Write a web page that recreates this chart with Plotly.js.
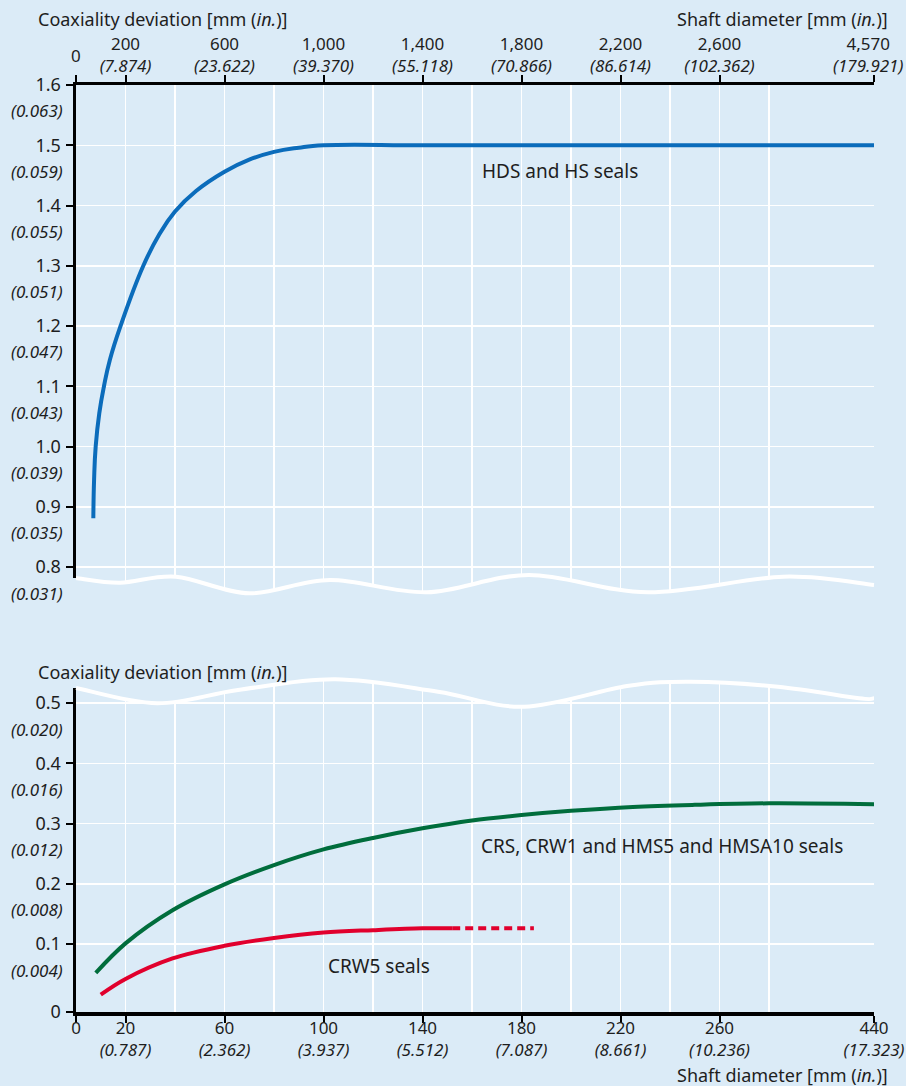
<!DOCTYPE html>
<html><head><meta charset="utf-8">
<script src="https://cdn.plot.ly/plotly-3.0.1.min.js"></script>
<style>html,body{margin:0;padding:0;background:#dbebf7;}</style>
</head><body><div id="chart" style="width:906px;height:1086px;"></div>
<script>
// ---------- DATA ----------
// Upper chart: HDS and HS seals
const hdsShaftMm = [70, 73, 79.5, 94, 113, 137, 180, 272, 335, 400, 485, 600, 700, 800, 900, 1000, 1400, 1800, 2200, 2600, 4570];
const hdsCoaxMm  = [0.881, 0.944, 1.000, 1.055, 1.100, 1.144, 1.200, 1.300, 1.351, 1.390, 1.424, 1.456, 1.476, 1.489, 1.496, 1.500, 1.500, 1.500, 1.500, 1.500, 1.500];

// Lower chart: CRS, CRW1, HMS5, HMSA10 seals
const crsShaftMm = [8, 20, 39, 60, 80, 100, 120, 140, 160, 180, 200, 225, 250, 280, 440];
const crsCoaxMm  = [0.052, 0.101, 0.156, 0.199, 0.231, 0.257, 0.276, 0.292, 0.305, 0.314, 0.321, 0.3275, 0.331, 0.3335, 0.332];

// Lower chart: CRW5 seals (solid part and dashed extension)
const crw5ShaftMm = [10, 20, 39, 60, 80, 100, 120, 140, 152];
const crw5CoaxMm  = [0.016, 0.042, 0.076, 0.097, 0.110, 0.119, 0.123, 0.126, 0.126];
const crw5DashShaftMm = [152, 185];
const crw5DashCoaxMm  = [0.126, 0.126];

// Tick labels
const topXTicks   = [0, 200, 600, 1000, 1400, 1800, 2200, 2600, 4570];
const topXTickMm  = ["0", "200", "600", "1,000", "1,400", "1,800", "2,200", "2,600", "4,570"];
const topXTickIn  = ["", "7.874", "23.622", "39.370", "55.118", "70.866", "86.614", "102.362", "179.921"];
const topXMinor   = [400, 800, 1200, 1600, 2000, 2400, 2800];
const topYTicks   = [0.8, 0.9, 1.0, 1.1, 1.2, 1.3, 1.4, 1.5, 1.6];
const topYTickMm  = ["0.8", "0.9", "1.0", "1.1", "1.2", "1.3", "1.4", "1.5", "1.6"];
const topYTickIn  = ["0.031", "0.035", "0.039", "0.043", "0.047", "0.051", "0.055", "0.059", "0.063"];

const botXTicks   = [0, 20, 60, 100, 140, 180, 220, 260, 440];
const botXTickMm  = ["0", "20", "60", "100", "140", "180", "220", "260", "440"];
const botXTickIn  = ["", "0.787", "2.362", "3.937", "5.512", "7.087", "8.661", "10.236", "17.323"];
const botXMinor   = [40, 80, 120, 160, 200, 240, 280];
const botYTicks   = [0.1, 0.2, 0.3, 0.4, 0.5];
const botYTickMm  = ["0.1", "0.2", "0.3", "0.4", "0.5"];
const botYTickIn  = ["0.004", "0.008", "0.012", "0.016", "0.020"];

const titleY = "Coaxiality deviation [mm (<i>in.</i>)]";
const titleX = "Shaft diameter [mm (<i>in.</i>)]";

// ---------- LAYOUT GEOMETRY ----------
const W = 906, H = 1086;
const BG = "#dbebf7";
const TXT = "#1e1e1e";
const FONT = "Noto Sans, sans-serif";
const pxX = p => p / W;
const pxY = p => 1 - p / H;
const plotL = 76, plotR = 874;
const pxPerUnitY = 602.5; // pixels per 1 mm of deviation
// upper panel
const topAxisPx = 85, topBottomPx = 595;
const topYMin = 0.8 - (topBottomPx - 567) / pxPerUnitY;
// lower panel
const botAxisPx = 1012, botTopPx = 678;
const botYMin = 0.1 - (botAxisPx - 944) / pxPerUnitY;
const botYMax = 0.5 + (703 - botTopPx) / pxPerUnitY;

// broken x-axis scales (linear part, then compressed last segment)
const topPos = mm => mm <= 2800 ? mm : 2800 + (mm - 2800) * (3224.2 - 2800) / (4570 - 2800);
const botPos = mm => mm <= 280 ? mm : 280 + (mm - 280) * (322.42 - 280) / (440 - 280);

const tickText = (mm, inch) => mm.map((m, i) => inch[i] ? m + "<br><i>(" + inch[i] + ")</i>" : m);

// first and last labels of the upper axis are placed separately (as in the original)
const topTickTextArr = tickText(topXTickMm, topXTickIn).map((t, i) => (i === 0 || i === topXTicks.length - 1) ? "" : t);

// ---------- TRACES ----------
const traces = [
  { x: hdsShaftMm.map(topPos), y: hdsCoaxMm, xaxis: "x", yaxis: "y", mode: "lines",
    line: { color: "#0b6cbb", width: 4, shape: "spline", smoothing: 1.3 }, hoverinfo: "skip" },
  { x: crsShaftMm.map(botPos), y: crsCoaxMm, xaxis: "x2", yaxis: "y2", mode: "lines",
    line: { color: "#006d3c", width: 4, shape: "spline", smoothing: 1 }, hoverinfo: "skip" },
  { x: crw5ShaftMm.map(botPos), y: crw5CoaxMm, xaxis: "x2", yaxis: "y2", mode: "lines",
    line: { color: "#e1002d", width: 4, shape: "spline", smoothing: 1 }, hoverinfo: "skip" },
  { x: crw5DashShaftMm.map(botPos), y: crw5DashCoaxMm, xaxis: "x2", yaxis: "y2", mode: "lines",
    line: { color: "#e1002d", width: 4, dash: "8px,5px" }, hoverinfo: "skip" }
];

// ---------- AXES ----------
const common = {
  showline: true, linecolor: "#000", linewidth: 3.5,
  ticks: "outside", ticklen: 7, tickwidth: 2, tickcolor: "#000",
  showgrid: true, gridcolor: "#ffffff", gridwidth: 1.5, zeroline: false,
  tickfont: { family: FONT, size: 17, color: TXT }, fixedrange: true,
  ticklabeloverflow: "allow"
};
const yTickFont = { family: FONT, size: 18, color: TXT };

const layout = {
  width: W, height: H, margin: { l: 0, r: 0, t: 0, b: 0 },
  paper_bgcolor: BG, plot_bgcolor: BG, showlegend: false,
  xaxis: Object.assign({}, common, {
    domain: [pxX(plotL), pxX(plotR)], range: [0, topPos(4570)], anchor: "y", side: "top",
    tickmode: "array", tickvals: topXTicks.map(topPos), ticktext: topTickTextArr,
    ticklabelstandoff: -4,
    minor: { tickmode: "array", tickvals: topXMinor.map(topPos), showgrid: true, gridcolor: "#ffffff", gridwidth: 1.5, ticks: "" }
  }),
  yaxis: Object.assign({}, common, {
    domain: [pxY(topBottomPx), pxY(topAxisPx)], range: [topYMin, 1.6], anchor: "x",
    tickmode: "array", tickvals: topYTicks, ticktext: topYTickMm, ticklabelstandoff: 1, tickfont: yTickFont
  }),
  xaxis2: Object.assign({}, common, {
    domain: [pxX(plotL), pxX(plotR)], range: [0, botPos(440)], anchor: "y2", side: "bottom",
    tickmode: "array", tickvals: botXTicks.map(botPos), ticktext: tickText(botXTickMm, botXTickIn),
    ticklabelstandoff: -9,
    minor: { tickmode: "array", tickvals: botXMinor.map(botPos), showgrid: true, gridcolor: "#ffffff", gridwidth: 1.5, ticks: "" }
  }),
  yaxis2: Object.assign({}, common, {
    domain: [pxY(botAxisPx), pxY(botTopPx)], range: [botYMin, botYMax], anchor: "x2",
    tickmode: "array", tickvals: [botYMin].concat(botYTicks), ticktext: ["0"].concat(botYTickMm),
    ticklabelstandoff: 1, tickfont: yTickFont
  }),
  annotations: [],
  shapes: []
};

// "0" and "4,570" labels of the upper shaft-diameter axis
const tFont = { family: FONT, size: 17, color: TXT };
layout.annotations.push({ xref: "x", yref: "paper", x: topPos(topXTicks[0]), y: pxY(55), xanchor: "center", yanchor: "middle",
  showarrow: false, text: topXTickMm[0], font: tFont });
const lastI = topXTicks.length - 1;
layout.annotations.push({ xref: "x", yref: "paper", x: topPos(topXTicks[lastI]), xshift: -6, y: pxY(79), xanchor: "center", yanchor: "bottom",
  showarrow: false, text: topXTickMm[lastI] + "<br><i>(" + topXTickIn[lastI] + ")</i>", font: tFont });

// inch labels under y ticks
const inchFont = { family: FONT, size: 17, color: TXT };
topYTicks.forEach((v, i) => layout.annotations.push({
  xref: "paper", yref: "y", x: pxX(65), y: v, yshift: -26, xanchor: "right", yanchor: "middle",
  showarrow: false, text: "<i>(" + topYTickIn[i] + ")</i>", font: inchFont }));
botYTicks.forEach((v, i) => layout.annotations.push({
  xref: "paper", yref: "y2", x: pxX(65), y: v, yshift: -26, xanchor: "right", yanchor: "middle",
  showarrow: false, text: "<i>(" + botYTickIn[i] + ")</i>", font: inchFont }));

// axis titles
const titleFont = { family: FONT, size: 18, color: TXT };
[[36, 19, "left", titleY], [890, 19, "right", titleX], [36, 672, "left", titleY], [890, 1075, "right", titleX]]
  .forEach(t => layout.annotations.push({ xref: "paper", yref: "paper", x: pxX(t[0]), y: pxY(t[1]),
    xanchor: t[2], yanchor: "middle", showarrow: false, text: t[3], font: titleFont }));

// series labels
const lblFont = { family: FONT, size: 19, color: TXT };
layout.annotations.push({ xref: "x", yref: "y", x: topPos(1632), y: 1.457, xanchor: "left", yanchor: "middle",
  showarrow: false, text: "HDS and HS seals", font: lblFont });
layout.annotations.push({ xref: "x2", yref: "y2", x: botPos(163), y: 0.263, xanchor: "left", yanchor: "middle",
  showarrow: false, text: "CRS, CRW1 and HMS5 and HMSA10 seals", font: lblFont });
layout.annotations.push({ xref: "x2", yref: "y2", x: botPos(101), y: 0.0635, xanchor: "left", yanchor: "middle",
  showarrow: false, text: "CRW5 seals", font: lblFont });

// ---------- BREAK WAVES (decoration) ----------
const topWave = [[76, 578], [120, 582.7], [176, 576.7], [249, 593.3], [330, 580], [427, 592.3], [529, 575], [648, 592.3], [783, 576.7], [874, 585]];
const botWave = [[76, 688], [157, 703.3], [238, 690], [335, 679.3], [438, 691.7], [524, 706.7], [627, 686], [691, 681.7], [778, 686.7], [859, 698.3], [874, 698.3]];

function P(p) { return pxX(p[0]).toFixed(5) + "," + pxY(p[1]).toFixed(5); }
function splinePath(pts) {
  let d = "";
  for (let i = 0; i < pts.length - 1; i++) {
    const p0 = pts[Math.max(0, i - 1)], p1 = pts[i], p2 = pts[i + 1], p3 = pts[Math.min(pts.length - 1, i + 2)];
    const c1 = [p1[0] + (p2[0] - p0[0]) / 6, p1[1] + (p2[1] - p0[1]) / 6];
    const c2 = [p2[0] - (p3[0] - p1[0]) / 6, p2[1] - (p3[1] - p1[1]) / 6];
    d += " C" + P(c1) + " " + P(c2) + " " + P(p2);
  }
  return d;
}
const topCurve = splinePath(topWave);
const botCurve = splinePath(botWave);
const topStart = topWave[0], topEnd = topWave[topWave.length - 1];
const botStart = botWave[0], botEnd = botWave[botWave.length - 1];

layout.shapes.push({ type: "path", xref: "paper", yref: "paper", layer: "above", fillcolor: BG, line: { width: 0 },
  path: "M" + P([70, topStart[1]]) + " L" + P(topStart) + topCurve + " L" + P([880, topEnd[1]]) + " L" + P([880, 602]) + " L" + P([70, 602]) + " Z" });
layout.shapes.push({ type: "path", xref: "paper", yref: "paper", layer: "above", line: { color: "#ffffff", width: 4 },
  path: "M" + P(topStart) + topCurve });
layout.shapes.push({ type: "path", xref: "paper", yref: "paper", layer: "above", fillcolor: BG, line: { width: 0 },
  path: "M" + P([70, 672]) + " L" + P([70, botStart[1]]) + " L" + P(botStart) + botCurve + " L" + P([880, botEnd[1]]) + " L" + P([880, 672]) + " Z" });
layout.shapes.push({ type: "path", xref: "paper", yref: "paper", layer: "above", line: { color: "#ffffff", width: 4 },
  path: "M" + P(botStart) + botCurve });

Plotly.newPlot("chart", traces, layout, { displayModeBar: false, staticPlot: true });
</script>
</body></html>
